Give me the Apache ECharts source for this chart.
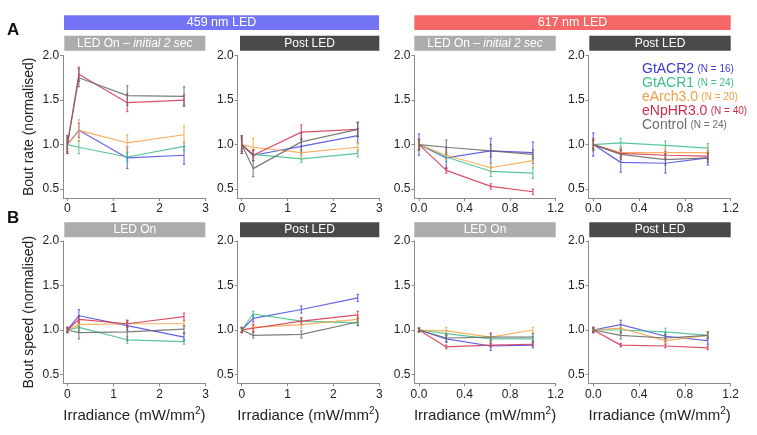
<!DOCTYPE html>
<html>
<head>
<meta charset="utf-8">
<script src="https://cdn.jsdelivr.net/npm/echarts@6/dist/echarts.min.js"></script>
<style>
html,body{margin:0;padding:0;background:#fff;}
#chart{width:757px;height:435px;}
</style>
</head>
<body>
<div id="chart"></div>
<script>
// ---------- DATA ----------
const seriesNames = ['GtACR2', 'GtACR1', 'eArch3.0', 'eNpHR3.0', 'Control'];
const seriesN = [16, 24, 20, 40, 24];
const x459 = [0, 0.25, 1.3, 2.53];
const x617 = [0, 0.24, 0.63, 1.0];
const ticks459 = [0, 1, 2, 3];
const ticks617 = [0, 0.4, 0.8, 1.2];
const yTicks = [0.5, 1.0, 1.5, 2.0];

// rows in seriesNames order: GtACR2, GtACR1, eArch3.0, eNpHR3.0, Control
const rate459On = [[1.0, 1.16, 0.85, 0.88], [1.0, 0.97, 0.86, 0.98], [1.0, 1.16, 1.02, 1.11], [1.0, 1.79, 1.47, 1.50], [1.0, 1.75, 1.55, 1.54]];
const rate459OnErr = [[0.08, 0.08, 0.12, 0.10], [0.05, 0.07, 0.05, 0.05], [0.08, 0.12, 0.09, 0.10], [0.10, 0.08, 0.10, 0.06], [0.10, 0.10, 0.11, 0.11]];
const rate459Post = [[1.0, 0.88, 0.98, 1.10], [1.0, 0.89, 0.84, 0.90], [1.0, 0.97, 0.91, 0.97], [1.0, 0.88, 1.14, 1.17], [1.0, 0.73, 1.03, 1.17]];
const rate459PostErr = [[0.08, 0.06, 0.08, 0.08], [0.05, 0.04, 0.04, 0.04], [0.06, 0.10, 0.07, 0.05], [0.10, 0.06, 0.08, 0.08], [0.10, 0.09, 0.10, 0.08]];
const rate617On = [[1.0, 0.85, 0.93, 0.91], [1.0, 0.86, 0.70, 0.68], [1.0, 0.88, 0.74, 0.82], [1.0, 0.71, 0.53, 0.47], [1.0, 0.97, 0.93, 0.89]];
const rate617OnErr = [[0.12, 0.12, 0.14, 0.12], [0.05, 0.05, 0.06, 0.06], [0.06, 0.05, 0.05, 0.06], [0.06, 0.03, 0.03, 0.03], [0.06, 0.08, 0.07, 0.05]];
const rate617Post = [[1.0, 0.80, 0.79, 0.85], [1.0, 1.02, 0.99, 0.96], [1.0, 0.91, 0.91, 0.91], [1.0, 0.90, 0.88, 0.87], [1.0, 0.89, 0.83, 0.85]];
const rate617PostErr = [[0.13, 0.11, 0.11, 0.08], [0.05, 0.05, 0.05, 0.05], [0.06, 0.06, 0.06, 0.06], [0.05, 0.04, 0.04, 0.04], [0.07, 0.06, 0.06, 0.05]];
const speed459On = [[1.0, 1.16, 1.05, 0.92], [1.0, 1.03, 0.89, 0.87], [1.0, 1.06, 1.07, 1.07], [1.0, 1.12, 1.07, 1.15], [1.0, 0.97, 0.98, 1.01]];
const speed459OnErr = [[0.03, 0.07, 0.05, 0.04], [0.02, 0.04, 0.04, 0.03], [0.02, 0.04, 0.04, 0.03], [0.03, 0.04, 0.04, 0.04], [0.02, 0.07, 0.10, 0.04]];
const speed459Post = [[1.0, 1.13, 1.23, 1.36], [1.0, 1.18, 1.10, 1.08], [1.0, 1.03, 1.06, 1.12], [1.0, 1.02, 1.10, 1.17], [1.0, 0.94, 0.95, 1.09]];
const speed459PostErr = [[0.03, 0.04, 0.04, 0.04], [0.02, 0.03, 0.03, 0.03], [0.02, 0.04, 0.04, 0.04], [0.03, 0.04, 0.04, 0.04], [0.02, 0.03, 0.04, 0.04]];
const speed617On = [[1.0, 0.90, 0.82, 0.83], [1.0, 0.96, 0.90, 0.90], [1.0, 0.99, 0.92, 1.00], [1.0, 0.81, 0.83, 0.84], [1.0, 0.91, 0.92, 0.92]];
const speed617OnErr = [[0.02, 0.04, 0.05, 0.03], [0.02, 0.03, 0.03, 0.03], [0.03, 0.04, 0.05, 0.03], [0.02, 0.02, 0.02, 0.02], [0.02, 0.04, 0.04, 0.04]];
const speed617Post = [[1.0, 1.06, 0.93, 0.88], [1.0, 1.00, 0.98, 0.94], [1.0, 1.02, 0.88, 0.94], [1.0, 0.83, 0.82, 0.80], [1.0, 0.94, 0.91, 0.94]];
const speed617PostErr = [[0.03, 0.05, 0.04, 0.04], [0.02, 0.03, 0.04, 0.03], [0.02, 0.06, 0.03, 0.04], [0.03, 0.02, 0.02, 0.02], [0.02, 0.04, 0.04, 0.04]];

// ---------- STYLE ----------
const FONT = '"Liberation Sans", Arial, Helvetica, sans-serif';
const lineColors = ['#4848e4', '#3dbd88', '#f5a244', '#d3304d', '#666666'];
const legendColors = ['#3a3ad8', '#3dbd88', '#f39f45', '#d22c4a', '#6e6e6e'];

const panels = [
  {x: x459, m: rate459On, e: rate459OnErr},
  {x: x459, m: rate459Post, e: rate459PostErr},
  {x: x617, m: rate617On, e: rate617OnErr},
  {x: x617, m: rate617Post, e: rate617PostErr},
  {x: x459, m: speed459On, e: speed459OnErr},
  {x: x459, m: speed459Post, e: speed459PostErr},
  {x: x617, m: speed617On, e: speed617OnErr},
  {x: x617, m: speed617Post, e: speed617PostErr}
];

// layout
const colLeft = [63.2, 237.6, 414.4, 588.7];
const colWidth = [142.5, 141.7, 141.3, 142.0];
const colMin = [-0.09, -0.09, -0.04, -0.04];
const colMax = [3, 3, 1.2, 1.2];
const rowTop = [55.5, 241];
const rowHeight = [142.5, 142.4];

const grids = [], xAxes = [], yAxes = [], series = [];
for (let p = 0; p < 8; p++) {
  const col = p % 4, row = Math.floor(p / 4);
  grids.push({left: colLeft[col], top: rowTop[row], width: colWidth[col], height: rowHeight[row], containLabel: false});
  const is459 = col < 2;
  xAxes.push({
    gridIndex: p, type: 'value', min: colMin[col], max: colMax[col],
    splitLine: {show: false},
    axisLine: {show: true, onZero: false, lineStyle: {color: '#8a8a8a', width: 1}},
    axisTick: {show: true, length: 3, lineStyle: {color: '#8a8a8a'}, customValues: is459 ? ticks459 : ticks617},
    axisLabel: {show: true, margin: 5, color: '#222', fontSize: 12, fontFamily: FONT,
      customValues: is459 ? ticks459 : ticks617,
      formatter: v => is459 ? String(Math.round(v)) : v.toFixed(1)},
    name: row === 1 ? '{a|Irradiance (mW/mm}{s|2}{a|)}' : '',
    nameLocation: 'middle', nameGap: 23,
    nameTextStyle: {fontFamily: FONT, color: '#222', rich: {
      a: {fontSize: 15, fontFamily: FONT, color: '#222', lineHeight: 18},
      s: {fontSize: 10, fontFamily: FONT, color: '#222', verticalAlign: 'top', lineHeight: 10, padding: [0, 0, 6, 0]}
    }}
  });
  yAxes.push({
    gridIndex: p, type: 'value', min: 0.4, max: 2.0,
    splitLine: {show: false},
    axisLine: {show: true, onZero: false, lineStyle: {color: '#8a8a8a', width: 1}},
    axisTick: {show: true, length: 3, lineStyle: {color: '#8a8a8a'}, customValues: yTicks},
    axisLabel: {show: true, margin: 4, color: '#222', fontSize: 12, fontFamily: FONT,
      customValues: yTicks, formatter: v => v.toFixed(1)},
    name: col === 0 ? (row === 0 ? 'Bout rate (normalised)' : 'Bout speed (normalised)') : '',
    nameLocation: 'middle', nameRotate: 90, nameGap: 27,
    nameTextStyle: {fontSize: 14, fontFamily: FONT, color: '#222'}
  });
  const pan = panels[p];
  for (let s = 0; s < 5; s++) {
    const pts = pan.x.map((xv, i) => [xv, pan.m[s][i]]);
    const errs = pan.x.map((xv, i) => [xv, pan.m[s][i] - pan.e[s][i], pan.m[s][i] + pan.e[s][i]]);
    const color = lineColors[s];
    series.push({
      type: 'line', name: seriesNames[s], xAxisIndex: p, yAxisIndex: p,
      data: pts, symbol: 'none', silent: true, animation: false,
      lineStyle: {color: color, width: 1.2, opacity: 0.85}, itemStyle: {color: color}
    });
    series.push({
      type: 'custom', name: seriesNames[s], xAxisIndex: p, yAxisIndex: p,
      data: errs, silent: true, animation: false,
      encode: {x: 0, y: [1, 2]},
      itemStyle: {color: color},
      renderItem: (params, api) => {
        const xv = api.value(0);
        const a = api.coord([xv, api.value(1)]);
        const b = api.coord([xv, api.value(2)]);
        const c = 1.2;
        const st = {stroke: color, lineWidth: 1.2, opacity: 0.75};
        return {type: 'group', children: [
          {type: 'line', shape: {x1: a[0], y1: a[1], x2: b[0], y2: b[1]}, style: st},
          {type: 'line', shape: {x1: a[0] - c, y1: a[1], x2: a[0] + c, y2: a[1]}, style: st},
          {type: 'line', shape: {x1: b[0] - c, y1: b[1], x2: b[0] + c, y2: b[1]}, style: st}
        ]};
      }
    });
  }
}

// headers (decorations)
function bar(x, y, w, h, fill) {
  return {type: 'rect', shape: {x: x, y: y, width: w, height: h}, style: {fill: fill}, silent: true};
}
function label(cx, cy, txt, size, rich) {
  return {type: 'text', x: cx, y: cy, silent: true,
    style: {text: txt, fill: '#fff', font: size + 'px ' + FONT, align: 'center', verticalAlign: 'middle', rich: rich}};
}
const richOn = {a: {fontSize: 12, fontFamily: FONT, fill: '#fff', color: '#fff'}, b: {fontSize: 12, fontFamily: FONT, fontStyle: 'italic', fill: '#fff', color: '#fff'}};
const graphics = [
  bar(64, 15.3, 315, 14.7, '#7474f6'),
  label(221.5, 22.8, '459 nm LED', 12.5),
  bar(414.3, 15.3, 316.4, 14.7, '#f66868'),
  label(572.5, 22.8, '617 nm LED', 12.5),
  bar(64.3, 35.7, 141, 15, '#acacac'),
  label(134.8, 43.3, '{a|LED On – }{b|initial 2 sec}', 12, richOn),
  bar(240, 35.7, 139.3, 15, '#4a4a4a'),
  label(309.6, 43.3, 'Post LED', 12),
  bar(414.3, 35.7, 141.4, 15, '#acacac'),
  label(485, 43.3, '{a|LED On – }{b|initial 2 sec}', 12, richOn),
  bar(589.3, 35.7, 141.4, 15, '#4a4a4a'),
  label(660, 43.3, 'Post LED', 12),
  bar(64.3, 222.3, 141, 15, '#acacac'),
  label(134.8, 229.8, 'LED On', 12),
  bar(240, 222.3, 139.3, 15, '#4a4a4a'),
  label(309.6, 229.8, 'Post LED', 12),
  bar(414.3, 222.3, 141.4, 15, '#acacac'),
  label(485, 229.8, 'LED On', 12),
  bar(589.3, 222.3, 141.4, 15, '#4a4a4a'),
  label(660, 229.8, 'Post LED', 12),
  {type: 'text', x: 7, y: 22, silent: true, style: {text: 'A', fill: '#111', font: 'bold 17px ' + FONT}},
  {type: 'text', x: 7, y: 210, silent: true, style: {text: 'B', fill: '#111', font: 'bold 17px ' + FONT}}
];

const chart = echarts.init(document.getElementById('chart'), null, {renderer: 'canvas'});
chart.setOption({
  animation: false,
  backgroundColor: '#fff',
  grid: grids, xAxis: xAxes, yAxis: yAxes, series: series,
  legend: {
    orient: 'vertical', left: 632, top: 57, icon: 'none', itemWidth: 0, itemHeight: 14, itemGap: 0,
    selectedMode: false,
    data: seriesNames.map((n, i) => ({name: n, textStyle: {color: legendColors[i]}})),
    formatter: name => {
      const i = seriesNames.indexOf(name);
      return '{n|' + name + '} {s|(N = ' + seriesN[i] + ')}';
    },
    textStyle: {fontFamily: FONT, rich: {
      n: {fontSize: 14, fontFamily: FONT, lineHeight: 14},
      s: {fontSize: 10, fontFamily: FONT, lineHeight: 14}
    }}
  },
  graphic: graphics
});
</script>
</body>
</html>
